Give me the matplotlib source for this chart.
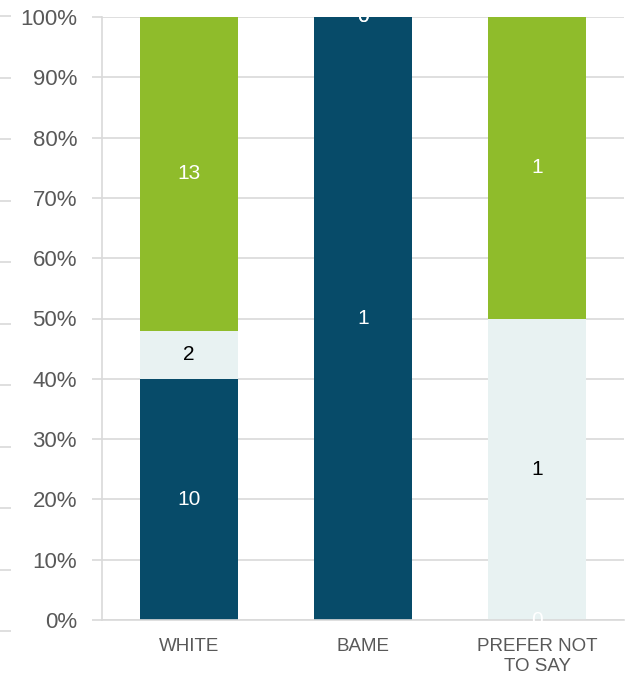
import matplotlib
matplotlib.use("Agg")
import matplotlib.pyplot as plt
import numpy as np

plt.rcParams['font.family'] = ['Liberation Sans', 'DejaVu Sans']

categories = ["WHITE", "BAME", "PREFER NOT\nTO SAY"]
series_names = ["Dark", "Light", "Green"]
dark_vals = [10, 1, 0]
light_vals = [2, 0, 1]
green_vals = [13, 0, 1]
colors = ["#074B69", "#E8F2F2", "#8FBC2B"]
label_colors = ["white", "black", "white"]
yticks = [0, 10, 20, 30, 40, 50, 60, 70, 80, 90, 100]

fig = plt.figure(figsize=(6.34, 6.81), dpi=100)
W, H = 634, 681
ax = fig.add_axes([102 / W, 1 - 620 / H, (624 - 102) / W, (620 - 17) / H])

data = np.array([dark_vals, light_vals, green_vals], dtype=float)
totals = data.sum(axis=0)
pct = data / totals * 100
x = np.arange(len(categories))
bottom = np.zeros(len(categories))
for i in range(3):
    ax.bar(x, pct[i], bottom=bottom, width=0.56, color=colors[i], zorder=2)
    for j in range(len(categories)):
        yc = bottom[j] + pct[i][j] / 2
        ax.text(x[j], yc, f"{int(data[i][j])}", ha="center", va="center",
                fontsize=15, color=label_colors[i] if data[i][j] > 0 else "white",
                zorder=3)
    bottom += pct[i]

ax.set_xlim(-0.5, 2.5)
ax.set_ylim(0, 100)
ax.set_yticks(yticks)
ax.set_yticklabels([f"{t}%" for t in yticks], fontsize=16, color="#595959")
ax.set_xticks(x)
ax.set_xticklabels(categories, fontsize=13.5, color="#595959", linespacing=1.2)
ax.tick_params(axis="x", length=0, pad=13)
ax.tick_params(axis="y", length=7, color="#D9D9D9", width=1.2, pad=11)
ax.yaxis.grid(True, color="#D9D9D9", linewidth=1.2, zorder=0)
ax.set_axisbelow(True)
for s in ["top", "right"]:
    ax.spines[s].set_visible(False)
ax.spines["left"].set_color("#D9D9D9")
ax.spines["left"].set_linewidth(1.2)
ax.spines["bottom"].set_color("#D9D9D9")
ax.spines["bottom"].set_linewidth(1.2)

# faint secondary tick marks at the far left
ax2 = fig.add_axes([0, 1 - 631 / H, 0.01, (631 - 16) / H])
ax2.set_ylim(0, 10)
ax2.set_yticks(range(11))
ax2.set_yticklabels([])
ax2.set_xticks([])
ax2.tick_params(axis="y", direction="in", length=8, color="#D9D9D9", width=1.2)
for s in ax2.spines.values():
    s.set_visible(False)
ax2.patch.set_alpha(0)

fig.savefig("out.png", dpi=100)
